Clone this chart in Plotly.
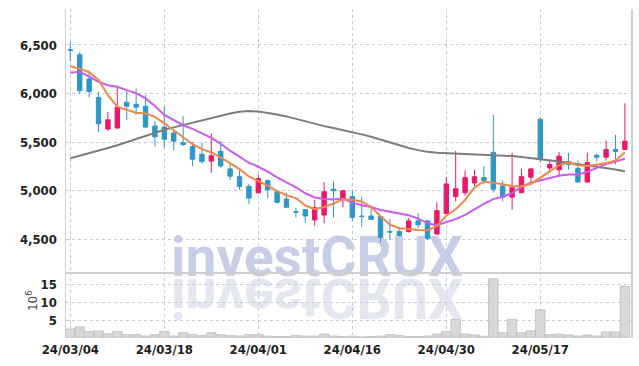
import plotly.graph_objects as go
from plotly.subplots import make_subplots

dates = [
    "24/03/04", "24/03/05", "24/03/06", "24/03/07", "24/03/08", "24/03/11", "24/03/12", "24/03/13",
    "24/03/14", "24/03/15", "24/03/18", "24/03/19", "24/03/20", "24/03/21", "24/03/22", "24/03/25",
    "24/03/26", "24/03/27", "24/03/28", "24/03/29", "24/04/01", "24/04/02", "24/04/03", "24/04/04",
    "24/04/05", "24/04/08", "24/04/09", "24/04/11", "24/04/12", "24/04/15", "24/04/16", "24/04/17",
    "24/04/18", "24/04/19", "24/04/22", "24/04/23", "24/04/24", "24/04/25", "24/04/26", "24/04/29",
    "24/04/30", "24/05/02", "24/05/03", "24/05/07", "24/05/08", "24/05/09", "24/05/10", "24/05/13",
    "24/05/14", "24/05/16", "24/05/17", "24/05/20", "24/05/21", "24/05/22", "24/05/23", "24/05/24",
    "24/05/27", "24/05/28", "24/05/29", "24/05/30",
]

open_ = [6450, 6400, 6150, 5960, 5635, 5645, 5910, 5890, 5870, 5665,
         5655, 5595, 5495, 5455, 5375, 5305, 5405, 5225, 5145, 5045,
         4980, 5105, 4990, 4915, 4785, 4805, 4700, 4750, 5015, 4915,
         4940, 4740, 4740, 4735, 4580, 4580, 4580, 4690, 4690, 4555,
         4765, 4940, 4980, 5080, 5135, 5395, 5050, 4935, 4980, 5140,
         5735, 5235, 5215, 5300, 5230, 5090, 5365, 5345, 5425, 5425]
high = [6535, 6430, 6240, 6020, 5810, 6065, 6030, 6050, 5985, 5715,
        5865, 5610, 5765, 5500, 5495, 5590, 5510, 5280, 5210, 5070,
        5165, 5115, 4995, 4980, 4825, 4810, 4905, 5090, 5095, 5005,
        5000, 4935, 4845, 4740, 4710, 4625, 4720, 4770, 4695, 4880,
        5140, 5410, 5210, 5215, 5255, 5780, 5105, 5390, 5225, 5230,
        5755, 5320, 5400, 5390, 5310, 5390, 5380, 5515, 5575, 5900]
low = [6330, 6000, 5960, 5600, 5615, 5640, 5725, 5780, 5650, 5455,
       5435, 5415, 5460, 5255, 5280, 5185, 5240, 5110, 5010, 4865,
       4970, 4925, 4870, 4825, 4725, 4670, 4640, 4665, 4725, 4830,
       4690, 4630, 4700, 4470, 4495, 4535, 4570, 4615, 4495, 4545,
       4760, 4890, 4950, 5050, 5065, 4980, 4890, 4805, 4975, 5090,
       5290, 5190, 5145, 5215, 5085, 5085, 5300, 5310, 5270, 5420]
close = [6445, 6030, 6020, 5690, 5730, 5860, 5870, 5860, 5655, 5555,
         5530, 5510, 5475, 5325, 5300, 5360, 5255, 5150, 5045, 4925,
         5125, 5010, 4880, 4830, 4780, 4740, 4825, 4990, 5000, 5000,
         4725, 4735, 4705, 4520, 4575, 4540, 4690, 4650, 4510, 4795,
         5070, 5020, 5135, 5145, 5105, 5015, 4935, 5030, 5145, 5225,
         5325, 5270, 5355, 5270, 5090, 5290, 5345, 5425, 5405, 5510]

ma5 = [6280, 6255, 6220, 6140, 5983, 5866, 5834, 5802, 5795, 5760,
       5694, 5622, 5545, 5479, 5428, 5394, 5343, 5278, 5222, 5147,
       5100, 5051, 4997, 4954, 4925, 4848, 4811, 4833, 4867, 4911,
       4908, 4890, 4833, 4737, 4652, 4615, 4606, 4595, 4593, 4637,
       4743, 4809, 4906, 5033, 5095, 5084, 5067, 5046, 5046, 5070,
       5132, 5199, 5264, 5289, 5262, 5255, 5270, 5284, 5311, 5395]
ma10 = [6215, 6225, 6175, 6120, 6085, 6070, 6035, 6005, 5950, 5872,
        5780, 5728, 5674, 5637, 5594, 5544, 5483, 5412, 5351, 5288,
        5247, 5197, 5138, 5088, 5036, 4974, 4931, 4915, 4911, 4918,
        4878, 4851, 4833, 4802, 4782, 4762, 4748, 4714, 4665, 4645,
        4679, 4708, 4751, 4813, 4866, 4914, 4938, 4976, 5040, 5083,
        5108, 5133, 5155, 5168, 5166, 5194, 5235, 5274, 5300, 5329]
ma_long = [5335, 5360, 5388, 5413, 5440, 5468, 5500, 5535, 5570, 5603,
           5628, 5652, 5675, 5700, 5727, 5752, 5775, 5795, 5812, 5820,
           5815, 5803, 5785, 5765, 5740, 5712, 5685, 5665, 5645, 5625,
           5605, 5580, 5555, 5525, 5497, 5470, 5440, 5418, 5400, 5392,
           5388, 5386, 5382, 5378, 5374, 5370, 5365, 5357, 5347, 5337,
           5325, 5312, 5300, 5288, 5275, 5262, 5248, 5232, 5218, 5200]

volume_m = [2.5, 3.1, 1.8, 2.0, 1.2, 1.8, 0.95, 0.95, 0.56, 0.95,
            1.8, 0.56, 1.5, 0.95, 0.65, 1.5, 0.95, 0.65, 0.56, 0.95,
            0.95, 0.56, 0.4, 0.4, 0.65, 0.56, 0.56, 1.1, 0.56, 0.4,
            0.5, 0.3, 0.4, 0.56, 0.95, 0.75, 0.4, 0.4, 0.56, 1.1,
            1.8, 5.2, 1.1, 0.85, 0.5, 16.6, 1.5, 5.2, 1.5, 2.0,
            7.9, 0.95, 1.1, 0.85, 0.56, 0.85, 0.56, 1.7, 1.7, 14.5]

tick_labels = ["24/03/04", "24/03/18", "24/04/01", "24/04/16", "24/04/30", "24/05/17"]
price_ticks = [4500, 5000, 5500, 6000, 6500]
volume_ticks = [5, 10, 15]

RED = "#e8196a"
BLUE = "#2f96c8"
GRID = "#c6cade"
AXIS = "#cfcfcf"
TICKFONT = dict(family="DejaVu Sans Condensed, DejaVu Sans, sans-serif",
                size=13, color="#222222", weight="bold")

fig = make_subplots(rows=2, cols=1, shared_xaxes=True, vertical_spacing=0,
                    row_heights=[0.7994, 0.2006])

fig.add_trace(go.Scatter(x=dates, y=ma_long, mode="lines",
                         line=dict(color="#7d7d7d", width=2), hoverinfo="skip",
                         showlegend=False), row=1, col=1)
fig.add_trace(go.Scatter(x=dates, y=ma10, mode="lines",
                         line=dict(color="#c95cf0", width=2), hoverinfo="skip",
                         showlegend=False), row=1, col=1)
fig.add_trace(go.Scatter(x=dates, y=ma5, mode="lines",
                         line=dict(color="#f0874d", width=2), hoverinfo="skip",
                         showlegend=False), row=1, col=1)
fig.add_trace(go.Candlestick(
    x=dates, open=open_, high=high, low=low, close=close,
    increasing=dict(line=dict(color=RED, width=1), fillcolor=RED),
    decreasing=dict(line=dict(color=BLUE, width=1), fillcolor=BLUE),
    whiskerwidth=0, showlegend=False), row=1, col=1)

fig.add_trace(go.Bar(x=dates, y=volume_m, marker=dict(color="#d8d8d8",
                     line=dict(color="#bdbdbd", width=0.8)),
                     showlegend=False), row=2, col=1)

xr = [-0.46, 59.65]
fig.update_xaxes(type="category", range=xr, tickvals=tick_labels, ticktext=tick_labels,
                 showgrid=True, gridcolor=GRID, griddash="dot", gridwidth=1,
                 ticks="", tickfont=TICKFONT, rangeslider_visible=False, automargin=False)
fig.update_xaxes(showticklabels=False, showline=True, linecolor=AXIS, linewidth=1.5,
                 row=1, col=1)
fig.update_xaxes(showticklabels=True, showline=False, ticklabelstandoff=2, row=2, col=1)

fig.update_yaxes(range=[4164, 6870], tickvals=price_ticks, tickformat=",d",
                 showgrid=True, gridcolor=GRID, griddash="dot", gridwidth=1,
                 showline=True, mirror=True, linecolor=AXIS, linewidth=1.5,
                 zeroline=False, ticks="", tickfont=TICKFONT, ticklabelstandoff=5,
                 automargin=False, row=1, col=1)
fig.update_yaxes(range=[0, 18.5], tickvals=volume_ticks,
                 showgrid=True, gridcolor=GRID, griddash="dot", gridwidth=1,
                 showline=True, mirror=True, linecolor=AXIS, linewidth=1.5,
                 zeroline=False, ticks="", tickfont=TICKFONT, ticklabelstandoff=5,
                 automargin=False, row=2, col=1)

wm_font = dict(family="Roboto, Liberation Sans, sans-serif", size=55, color="#c8cee5",
               weight="bold")
wm_text = "investCRUX"
fig.add_annotation(text=wm_text, xref="paper", yref="paper", x=0.445, y=0.2462,
                   xanchor="center", yanchor="middle", showarrow=False, font=wm_font)
fig.add_annotation(text=wm_text, xref="paper", yref="paper", x=0.445, y=0.2462,
                   xanchor="center", yanchor="middle", showarrow=False,
                   font=dict(wm_font, color="#e4e6f0"))
fig.add_annotation(text="10<sup>6</sup>", xref="paper", yref="paper", x=-0.060, y=0.1125,
                   xanchor="center", yanchor="middle", showarrow=False, textangle=-90,
                   font=dict(family="DejaVu Sans, sans-serif", size=12, color="#444444"))

fig.update_layout(width=639, height=366, margin=dict(l=66, r=8, t=9, b=28, autoexpand=False),
                  paper_bgcolor="white", plot_bgcolor="white", bargap=0, boxgap=0.33,
                  showlegend=False, hovermode=False)

post = """
document.body.style.margin = '0';
document.body.style.padding = '0';
var gd = document.getElementById('{plot_id}');
try {
  var anns = gd.querySelectorAll('.infolayer g.annotation');
  var mainA = anns[0], refl = anns[1];
  var t = refl.querySelector('text');
  var b = parseFloat(t.getAttribute('y'));
  if (isNaN(b)) { var bb = t.getBBox(); b = bb.y + bb.height * 0.78; }
  t.setAttribute('transform', 'translate(0,' + (2 * b + 3) + ') scale(1,-1)');
  var lb = gd.querySelector('.layer-below');
  lb.appendChild(mainA); lb.appendChild(refl);
} catch (e) {}
"""

fig.write_html("out.html", post_script=post,
               config={"displayModeBar": False, "staticPlot": True})
